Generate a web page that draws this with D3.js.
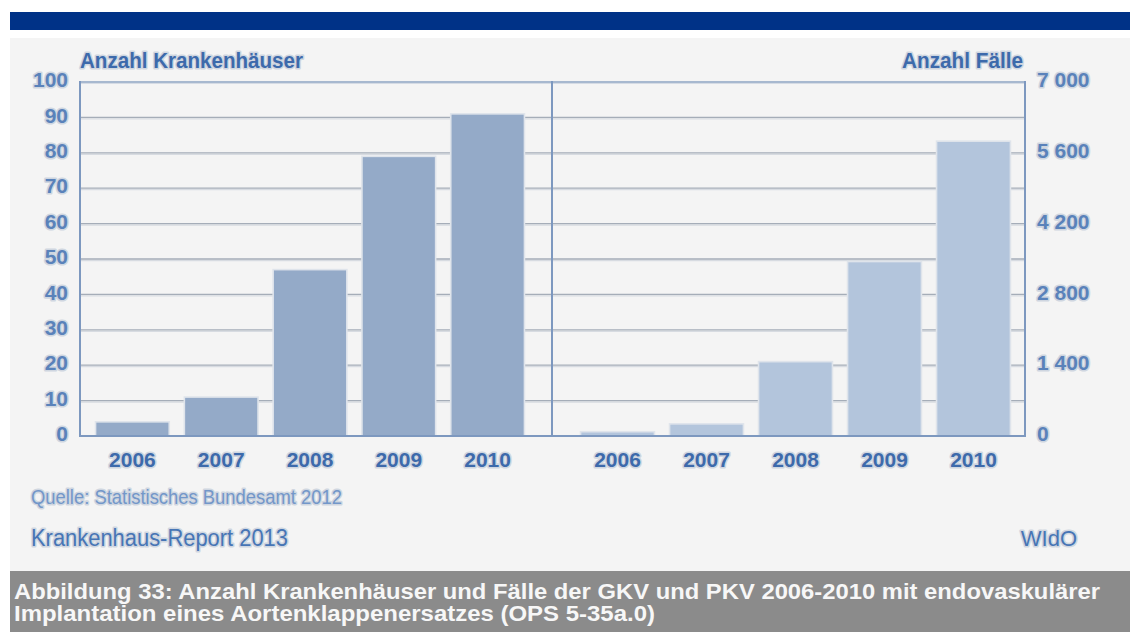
<!DOCTYPE html>
<html lang="de">
<head>
<meta charset="utf-8">
<title>Anzahl Krankenhäuser und Fälle 2006-2010</title>
<script src="https://cdn.jsdelivr.net/npm/d3@7"></script>
<style>
  html, body { margin: 0; padding: 0; background: #ffffff; }
  svg { display: block; }
  .halo { paint-order: stroke; stroke: #cfd6e0; stroke-width: 3.2px; stroke-linejoin: round; }
</style>
</head>
<body>
<svg id="chart" width="1130" height="632"></svg>
<script>
// Years shown on both category axes
const years = ["2006", "2007", "2008", "2009", "2010"];
// Number of hospitals performing the procedure (left panel)
const hospitals = [4, 11, 47, 79, 91];
// Number of cases (right panel)
const cases = [85, 240, 1470, 3450, 5830];
// Tick values for both value axes
const hospitalTicks = [0, 10, 20, 30, 40, 50, 60, 70, 80, 90, 100];
const caseTicks = [0, 1400, 2800, 4200, 5600, 7000];
const gridValues = [10, 20, 30, 40, 50, 60, 70, 80, 90];

const titleLeft = "Anzahl Krankenhäuser";
const titleRight = "Anzahl Fälle";
const sourceText = "Quelle: Statistisches Bundesamt 2012";
const reportText = "Krankenhaus-Report 2013";
const publisherText = "WIdO";
const captionLines = [
  "Abbildung 33:  Anzahl Krankenhäuser und Fälle der GKV und PKV 2006-2010 mit endovaskulärer",
  "Implantation eines Aortenklappenersatzes (OPS 5-35a.0)"
];
const captionWidths = [1086, 641];

const svg = d3.select("#chart");
const W = 1130, H = 632;

// Frame geometry
const plotTop = 82, plotBottom = 436;
const leftAxisX = 80, dividerX = 552, rightAxisX = 1025;

const de = d3.formatLocale({ decimal: ",", thousands: " ", grouping: [3], currency: ["", " €"] });
const fmt = de.format(",");

// Background pieces
svg.append("rect").attr("x", 0).attr("y", 0).attr("width", W).attr("height", H).attr("fill", "#ffffff");
svg.append("rect").attr("x", 10).attr("y", 12).attr("width", W - 10).attr("height", 18).attr("fill", "#003287");
svg.append("rect").attr("x", 10).attr("y", 38).attr("width", W - 10).attr("height", 533).attr("fill", "#f4f4f4");
svg.append("rect").attr("x", 10).attr("y", 571).attr("width", W - 10).attr("height", H - 571).attr("fill", "#8b8b8b");

// Scales
const yL = d3.scaleLinear().domain([0, 100]).range([plotBottom, plotTop]);
const yR = d3.scaleLinear().domain([0, 7000]).range([plotBottom, plotTop]);
const xL = d3.scaleBand().domain(years).range([88, 532]).paddingInner(0.17).paddingOuter(0.085);
const xR = d3.scaleBand().domain(years).range([573, 1018]).paddingInner(0.17).paddingOuter(0.085);

// Gridlines (double line: grey with a soft shadow under it)
const grid = svg.append("g");
grid.selectAll("line.g1").data(gridValues).join("line")
  .attr("x1", leftAxisX).attr("x2", rightAxisX)
  .attr("y1", d => yL(d) + 1.5).attr("y2", d => yL(d) + 1.5)
  .attr("stroke", "#d7dbe1").attr("stroke-width", 1.3);
grid.selectAll("line.g2").data(gridValues).join("line")
  .attr("x1", leftAxisX).attr("x2", rightAxisX)
  .attr("y1", d => yL(d)).attr("y2", d => yL(d))
  .attr("stroke", "#a5adb8").attr("stroke-width", 1.3);

// Bars
function drawBars(x, y, values, fill) {
  svg.append("g").selectAll("rect").data(values).join("rect")
    .attr("x", (d, i) => x(years[i]))
    .attr("width", x.bandwidth())
    .attr("y", d => y(d))
    .attr("height", d => plotBottom - y(d))
    .attr("fill", fill)
    .attr("stroke", "#dfe4eb")
    .attr("stroke-width", 1.6);
}
drawBars(xL, yL, hospitals, "#94aac8");
drawBars(xR, yR, cases, "#b3c5dc");

// Frame lines
const frame = svg.append("g").attr("stroke-linecap", "square");
frame.append("line").attr("x1", leftAxisX).attr("x2", rightAxisX).attr("y1", plotTop + 1.5).attr("y2", plotTop + 1.5)
  .attr("stroke", "#d5dbe4").attr("stroke-width", 1.2);
frame.append("line").attr("x1", leftAxisX).attr("x2", rightAxisX).attr("y1", plotTop).attr("y2", plotTop)
  .attr("stroke", "#8ea4c3").attr("stroke-width", 1.6);
[leftAxisX, dividerX, rightAxisX].forEach(xp => {
  frame.append("line").attr("x1", xp).attr("x2", xp).attr("y1", plotTop).attr("y2", plotBottom)
    .attr("stroke", "#7d98bf").attr("stroke-width", 2);
});
frame.append("line").attr("x1", leftAxisX).attr("x2", rightAxisX).attr("y1", plotBottom).attr("y2", plotBottom)
  .attr("stroke", "#7d98bf").attr("stroke-width", 2);

// Value axes (labels only)
function styleAxis(g, color, size, weight) {
  g.select(".domain").remove();
  g.selectAll(".tick line").remove();
  g.selectAll("text")
    .attr("class", "halo")
    .attr("fill", color)
    .style("font-family", "'Liberation Sans', Arial, sans-serif")
    .style("font-size", size + "px")
    .style("font-weight", weight);
}
svg.append("g").attr("transform", `translate(${leftAxisX},-2)`)
  .call(d3.axisLeft(yL).tickValues(hospitalTicks).tickSize(0).tickPadding(12))
  .call(g => styleAxis(g, "#5a82ba", 21, "bold"));
svg.append("g").attr("transform", `translate(${rightAxisX},-2)`)
  .call(d3.axisRight(yR).tickValues(caseTicks).tickSize(0).tickPadding(12).tickFormat(fmt))
  .call(g => styleAxis(g, "#5a82ba", 21, "bold"));

// Category axes (labels only)
svg.append("g").attr("transform", `translate(0,${plotBottom})`)
  .call(d3.axisBottom(xL).tickSize(0).tickPadding(16))
  .call(g => styleAxis(g, "#3d6aab", 21, "bold"));
svg.append("g").attr("transform", `translate(0,${plotBottom})`)
  .call(d3.axisBottom(xR).tickSize(0).tickPadding(16))
  .call(g => styleAxis(g, "#3d6aab", 21, "bold"));

// Text helper
function label(x, y, text, opts) {
  const t = svg.append("text")
    .attr("x", x).attr("y", y)
    .attr("class", "halo")
    .attr("fill", opts.color)
    .attr("text-anchor", opts.anchor || "start")
    .style("font-family", "'Liberation Sans', Arial, sans-serif")
    .style("font-size", opts.size + "px")
    .style("font-weight", opts.weight || "normal")
    .text(text);
  if (opts.len) t.attr("textLength", opts.len).attr("lengthAdjust", "spacingAndGlyphs");
  return t;
}

// Axis titles
label(leftAxisX, 68, titleLeft, { color: "#3d6aab", size: 22, weight: "bold", len: 223 });
label(rightAxisX - 2, 68, titleRight, { color: "#3d6aab", size: 22, weight: "bold", anchor: "end", len: 121 });

// Source and report lines
label(31, 504, sourceText, { color: "#7397c9", size: 21, len: 311 });
label(31, 546, reportText, { color: "#4775b5", size: 23, len: 257 });
label(1077, 546, publisherText, { color: "#4775b5", size: 22, anchor: "end" });

// Caption
svg.append("g").selectAll("text").data(captionLines).join("text")
  .attr("x", 14)
  .attr("y", (d, i) => 599 + i * 22)
  .attr("fill", "#f7f7f7")
  .attr("textLength", (d, i) => captionWidths[i])
  .attr("lengthAdjust", "spacingAndGlyphs")
  .style("font-family", "'Liberation Sans', Arial, sans-serif")
  .style("font-size", "21.5px")
  .style("font-weight", "bold")
  .text(d => d);
</script>
</body>
</html>
